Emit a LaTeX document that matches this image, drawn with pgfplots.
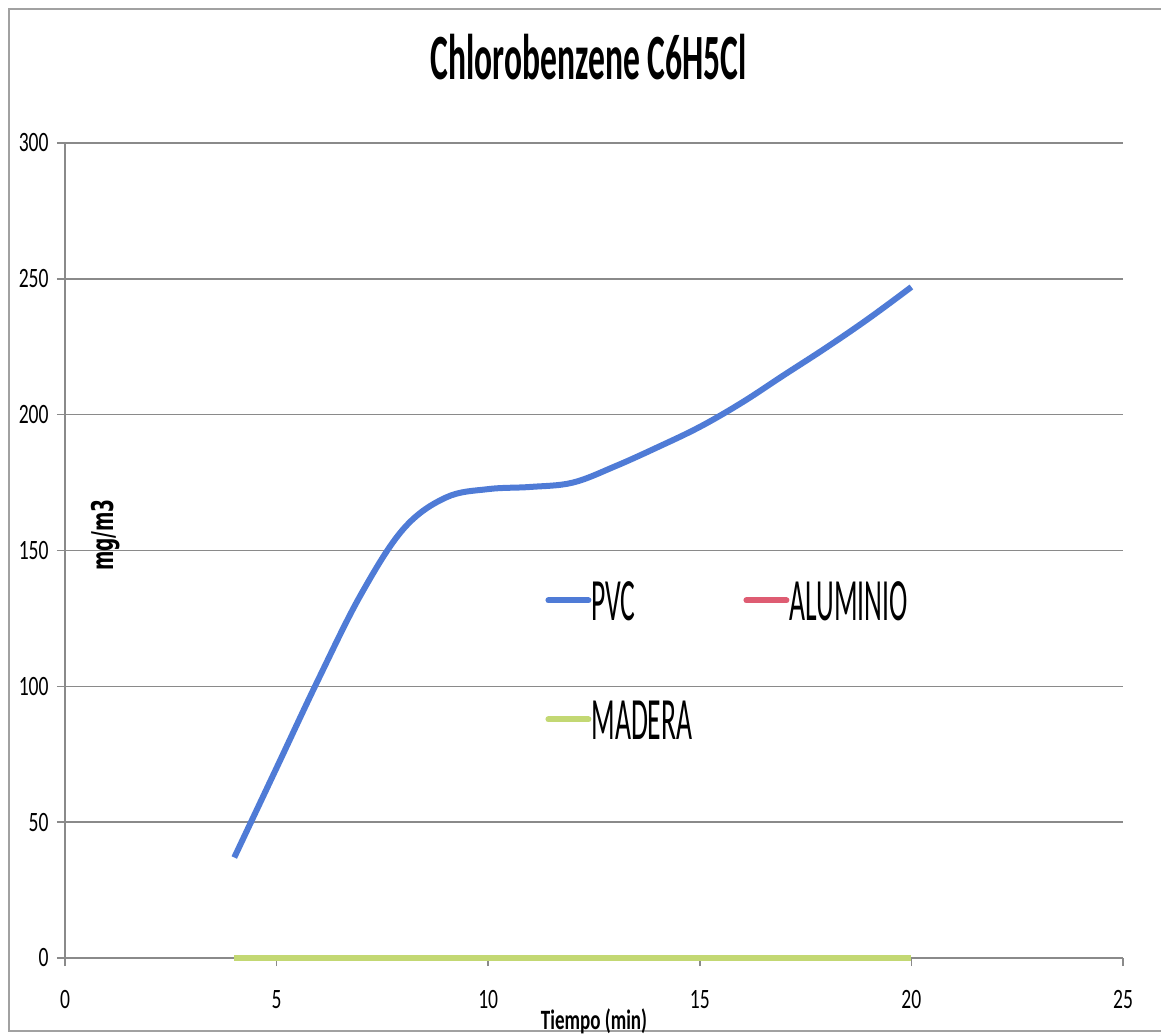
\documentclass[border=0pt]{standalone}
\usepackage{fontspec}
\setmainfont{Carlito}
\newfontfamily\verdana{DejaVu Sans}
\usepackage{pgfplots}
\pgfplotsset{compat=1.18}
\definecolor{pvc}{HTML}{4F7BD6}
\definecolor{alu}{HTML}{DE5C72}
\definecolor{mad}{HTML}{C3D873}
\definecolor{gridc}{HTML}{8A8A8A}
\newcommand{\tkl}[1]{\scalebox{0.70}[1]{\fontsize{14}{14}\selectfont #1}}
\newcommand{\lgt}[1]{\scalebox{0.46}[1]{\fontsize{30}{30}\selectfont #1}}
\begin{document}
\begin{tikzpicture}
\path[use as bounding box] (-32.5pt,-38.5pt) rectangle (548pt,479pt);
\draw[gridc!80, line width=0.7pt] (548pt,474.5pt) -- (-28pt,474.5pt) -- (-28pt,-36.5pt) -- (548pt,-36.5pt);
\begin{axis}[
  at={(0pt,0pt)}, anchor=south west,
  scale only axis, width=529pt, height=407.5pt,
  xmin=0, xmax=25, ymin=0, ymax=300,
  xtick={0,5,...,25}, ytick={0,50,...,300},
  axis x line*=bottom, axis y line*=left,
  axis line style={gridc, line width=0.75pt, -},
  tick style={gridc, line width=0.75pt},
  tick align=outside, major tick length=4pt,
  ymajorgrids, grid style={gridc, line width=0.75pt},
  xticklabel={\tkl{\pgfmathprintnumber[assume math mode=true]{\tick}}},
  yticklabel={\tkl{\pgfmathprintnumber[assume math mode=true]{\tick}}},
  xticklabel style={anchor=north, inner sep=0pt, yshift=-12pt},
  yticklabel style={anchor=east, inner sep=0pt, xshift=-4pt},
  title={\scalebox{0.52}[1]{\fontsize{32.3}{32.3}\selectfont\bfseries Chlorobenzene C6H5Cl}},
  title style={at={(axis description cs:0.495,1)}, anchor=base, yshift=26pt, inner sep=0pt},
  xlabel={\scalebox{0.68}[1]{\fontsize{14}{14}\selectfont\bfseries Tiempo (min)}},
  xlabel style={at={(axis description cs:0.5,0)}, anchor=center, yshift=-31.5pt, inner sep=0pt},
  ylabel={\scalebox{0.62}[1]{\verdana\bfseries\fontsize{15}{15}\selectfont mg/m3}},
  ylabel style={at={(axis description cs:0.038,0.519)}, anchor=center, inner sep=0pt},
  legend columns=2,
  legend style={draw=none, fill=none, inner sep=0pt, row sep=39.5pt,
    at={(axis description cs:0.4537,0.4638)}, anchor=north west,
    nodes={inner sep=0pt, text width=76pt, align=left, text height=20pt, text depth=0pt}},
  legend image code/.code={\draw[#1, line width=3pt, line cap=round] (0pt,0pt) -- (20pt,0pt);},
  clip=false,
]
\addplot[pvc, line width=3pt, smooth, tension=0.6] coordinates {
(4,37) (5,70) (6,103) (7,134) (8,158) (9,169.5) (10,172.6) (11,173.4) (12,175)
(13,181) (14,188) (15,195.5) (16,204.5) (17,214.7) (18,224.8) (19,235.5) (20,247)};
\addlegendentry{\lgt{PVC}}
\addplot[alu, line width=3pt] coordinates {(4,0) (8,0) (12,0) (16,0) (20,0)};
\addlegendentry{\lgt{ALUMINIO}}
\addplot[mad, line width=3pt] coordinates {(4,0) (8,0) (12,0) (16,0) (20,0)};
\addlegendentry{\lgt{MADERA}}
\end{axis}
\end{tikzpicture}
\end{document}
